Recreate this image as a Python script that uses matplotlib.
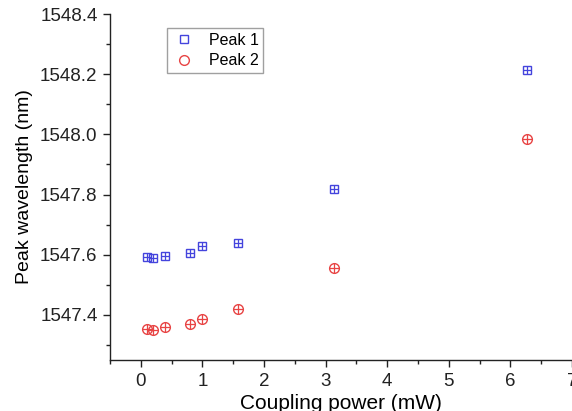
import matplotlib
matplotlib.use("Agg")
import matplotlib.pyplot as plt
from matplotlib.ticker import MultipleLocator, FormatStrFormatter

plt.rcParams['font.family'] = ['Liberation Sans', 'DejaVu Sans']

power = [0.1, 0.2, 0.4, 0.8, 1.0, 1.58, 3.14, 6.27]
peak1 = [1547.592, 1547.590, 1547.595, 1547.607, 1547.630, 1547.639, 1547.820, 1548.215]
peak2 = [1547.352, 1547.350, 1547.359, 1547.369, 1547.386, 1547.418, 1547.557, 1547.986]

blue = '#4444dd'
red = '#e84444'

fig = plt.figure(figsize=(5.72, 4.11), dpi=100)
ax = fig.add_axes([110/572, 1 - 360/411, 1 - 110/572, (360 - 14)/411])

ax.plot(power, peak1, linestyle='none', marker='s', markersize=6, markerfacecolor='none',
        markeredgecolor=blue, markeredgewidth=1.0, label='Peak 1')
ax.plot(power, peak1, linestyle='none', marker='+', markersize=6, color=blue, markeredgewidth=0.9)
ax.plot(power, peak2, linestyle='none', marker='o', markersize=7, markerfacecolor='none',
        markeredgecolor=red, markeredgewidth=1.0, label='Peak 2')
ax.plot(power, peak2, linestyle='none', marker='+', markersize=7, color=red, markeredgewidth=0.9)

ax.set_xlim(-0.5, 7.0)
ax.set_ylim(1547.25, 1548.40)
ax.xaxis.set_major_locator(MultipleLocator(1))
ax.xaxis.set_minor_locator(MultipleLocator(0.5))
ax.yaxis.set_major_locator(MultipleLocator(0.2))
ax.yaxis.set_minor_locator(MultipleLocator(0.1))
ax.yaxis.set_major_formatter(FormatStrFormatter('%.1f'))

for s in ['top', 'right']:
    ax.spines[s].set_visible(False)
for s in ['left', 'bottom']:
    ax.spines[s].set_linewidth(1.0)
    ax.spines[s].set_color('#222222')

ax.tick_params(which='major', direction='out', length=5, width=1, labelsize=13.5, colors='#222222', pad=4)
ax.tick_params(which='minor', direction='out', length=3, width=1, colors='#222222')

ax.set_xlabel('Coupling power (mW)', fontsize=15, labelpad=3)
ax.set_ylabel('Peak wavelength (nm)', fontsize=14, labelpad=5)

leg = ax.legend(loc='upper left', bbox_to_anchor=((167 - 110)/462, 1 - (28 - 14)/346),
                fontsize=11.5, frameon=True, fancybox=False, borderpad=0.3,
                handletextpad=0.8, labelspacing=0.35, handlelength=1.5, borderaxespad=0)
leg.get_frame().set_edgecolor('#888888')
leg.get_frame().set_linewidth(1.0)

fig.savefig('out.png', dpi=100)
